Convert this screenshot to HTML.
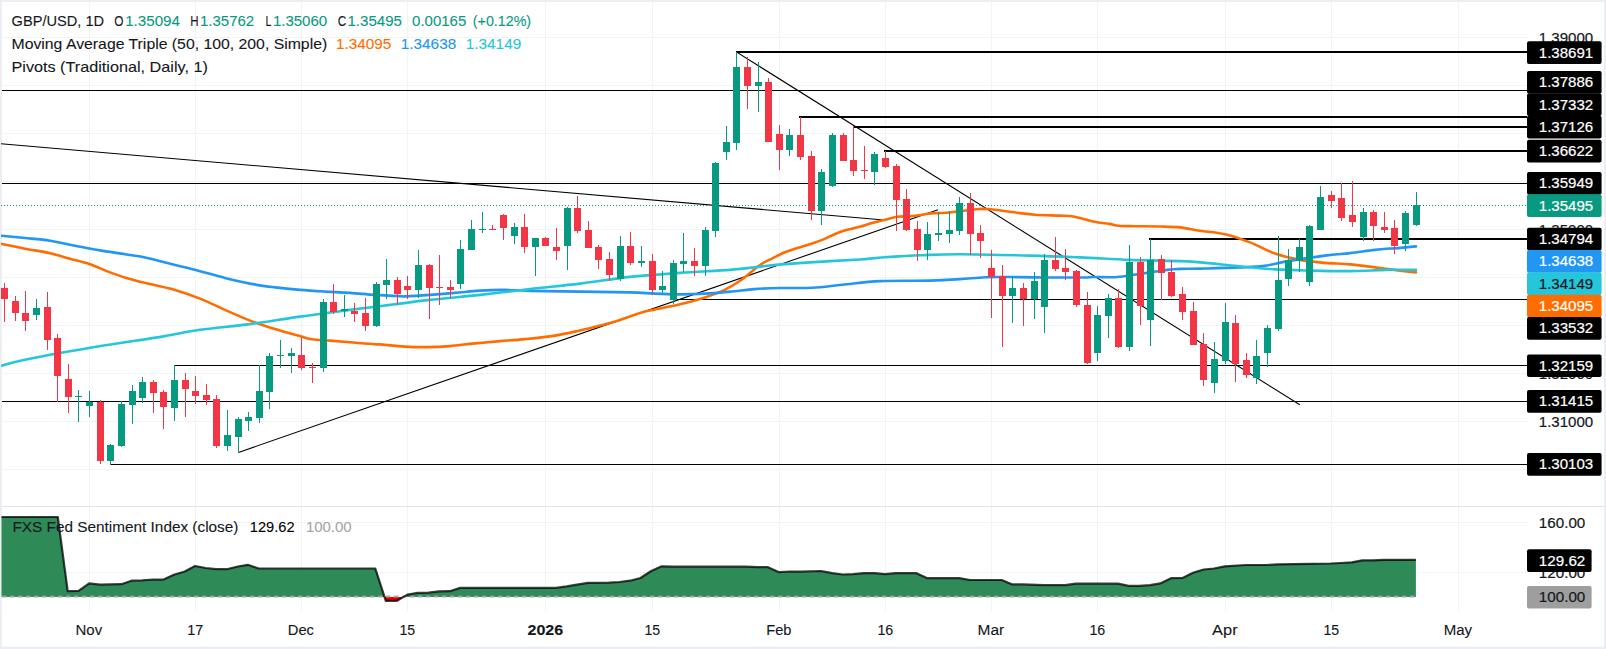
<!DOCTYPE html><html><head><meta charset="utf-8"><style>html,body{margin:0;padding:0;background:#fff}svg{display:block}svg text{font-family:"Liberation Sans",sans-serif}</style></head><body><svg width="1606" height="649" viewBox="0 0 1606 649" font-family="'Liberation Sans', sans-serif">
<rect x="0" y="0" width="1606" height="649" fill="#EDEEF3"/>
<rect x="2" y="2" width="1602" height="644.7" fill="#fff"/>
<g shape-rendering="crispEdges" stroke="#F2F3F3" stroke-width="1">
<line x1="89.5" y1="2" x2="89.5" y2="611"/>
<line x1="195.5" y1="2" x2="195.5" y2="611"/>
<line x1="301.5" y1="2" x2="301.5" y2="611"/>
<line x1="407.5" y1="2" x2="407.5" y2="611"/>
<line x1="545.5" y1="2" x2="545.5" y2="611"/>
<line x1="652.5" y1="2" x2="652.5" y2="611"/>
<line x1="779.5" y1="2" x2="779.5" y2="611"/>
<line x1="885.5" y1="2" x2="885.5" y2="611"/>
<line x1="991.5" y1="2" x2="991.5" y2="611"/>
<line x1="1097.5" y1="2" x2="1097.5" y2="611"/>
<line x1="1225.5" y1="2" x2="1225.5" y2="611"/>
<line x1="1331.5" y1="2" x2="1331.5" y2="611"/>
<line x1="1458.5" y1="2" x2="1458.5" y2="611"/>
<line x1="2" y1="37.5" x2="1527" y2="37.5"/>
<line x1="2" y1="85.5" x2="1527" y2="85.5"/>
<line x1="2" y1="133.5" x2="1527" y2="133.5"/>
<line x1="2" y1="181.5" x2="1527" y2="181.5"/>
<line x1="2" y1="229.5" x2="1527" y2="229.5"/>
<line x1="2" y1="277.5" x2="1527" y2="277.5"/>
<line x1="2" y1="325.5" x2="1527" y2="325.5"/>
<line x1="2" y1="373.5" x2="1527" y2="373.5"/>
<line x1="2" y1="421.5" x2="1527" y2="421.5"/>
<line x1="2" y1="469.5" x2="1527" y2="469.5"/>
<line x1="2" y1="522.5" x2="1527" y2="522.5"/>
<line x1="2" y1="572.5" x2="1527" y2="572.5"/>
</g>
<rect x="2" y="506" width="1602" height="1" fill="#E0E3EB" shape-rendering="crispEdges"/>
<clipPath id="cp"><rect x="1" y="2" width="1526" height="504"/></clipPath>
<clipPath id="cp2"><rect x="1" y="507" width="1525" height="104"/></clipPath>
<g clip-path="url(#cp)">
<rect x="736" y="51" width="791" height="2" fill="#000" shape-rendering="crispEdges"/>
<rect x="2" y="90" width="1525" height="1" fill="#000" shape-rendering="crispEdges"/>
<rect x="799" y="116" width="728" height="2" fill="#000" shape-rendering="crispEdges"/>
<rect x="853" y="126" width="674" height="2" fill="#000" shape-rendering="crispEdges"/>
<rect x="884" y="150" width="643" height="2" fill="#000" shape-rendering="crispEdges"/>
<rect x="2" y="183" width="1525" height="1" fill="#000" shape-rendering="crispEdges"/>
<rect x="1149" y="238" width="378" height="2" fill="#000" shape-rendering="crispEdges"/>
<rect x="673" y="299" width="854" height="1" fill="#000" shape-rendering="crispEdges"/>
<rect x="174" y="365" width="1353" height="1" fill="#000" shape-rendering="crispEdges"/>
<rect x="2" y="401" width="1525" height="1" fill="#000" shape-rendering="crispEdges"/>
<rect x="110" y="464" width="1417" height="1" fill="#000" shape-rendering="crispEdges"/>
<g stroke="#000" stroke-width="1.1" fill="none">
<line x1="0" y1="143.6" x2="884" y2="220"/>
<line x1="238.5" y1="452.4" x2="938" y2="209.7"/>
<line x1="736.3" y1="51.9" x2="1299.8" y2="404.8"/>
</g>
<path d="M2.0,243.9 C5.8,244.7 17.0,247.1 25.0,248.7 C33.0,250.2 42.5,251.5 50.0,253.2 C57.5,254.9 63.3,256.9 70.0,258.7 C76.7,260.5 83.3,261.9 90.0,264.2 C96.7,266.5 103.3,269.9 110.0,272.4 C116.7,274.9 123.3,277.2 130.0,279.1 C136.7,281.1 142.5,282.3 150.0,284.1 C157.5,285.9 166.7,287.5 175.0,289.9 C183.3,292.3 191.7,295.3 200.0,298.6 C208.3,301.9 216.7,306.2 225.0,309.9 C233.3,313.6 241.7,317.4 250.0,320.6 C258.3,323.8 266.7,326.5 275.0,329.1 C283.3,331.7 293.8,334.4 300.0,336.1 C306.2,337.8 307.0,338.6 312.0,339.3 C317.0,340.1 323.7,340.1 330.0,340.6 C336.3,341.1 342.6,341.7 350.0,342.3 C357.4,342.9 369.5,344.0 374.5,344.3 C379.5,344.6 374.9,344.0 380.0,344.4 C385.1,344.8 397.1,346.2 405.0,346.6 C412.9,347.1 419.9,347.2 427.4,347.1 C434.9,347.0 442.5,346.7 450.0,346.1 C457.5,345.5 464.1,344.4 472.4,343.6 C480.7,342.8 491.2,341.9 500.0,341.1 C508.8,340.4 515.8,340.0 525.0,339.1 C534.2,338.2 545.8,337.1 555.0,335.6 C564.2,334.2 571.7,332.3 580.0,330.4 C588.3,328.5 598.3,325.9 605.0,324.2 C611.7,322.4 614.2,321.8 620.0,319.9 C625.8,318.0 634.2,314.6 640.0,312.9 C645.8,311.1 648.3,310.8 655.0,309.4 C661.7,307.9 671.7,306.2 680.0,304.2 C688.3,302.2 697.6,299.8 705.0,297.4 C712.4,295.0 718.4,292.9 724.6,289.9 C730.8,286.9 736.1,283.6 742.0,279.5 C747.9,275.4 754.9,268.5 760.0,265.0 C765.1,261.5 768.4,260.4 772.5,258.3 C776.6,256.2 780.8,254.0 784.9,252.3 C789.0,250.6 793.2,249.2 797.4,247.9 C801.5,246.6 805.6,245.5 809.8,244.2 C813.9,242.9 818.1,241.6 822.3,239.9 C826.4,238.2 831.0,235.8 834.7,234.2 C838.4,232.6 840.6,231.7 844.7,230.5 C848.9,229.3 855.0,228.1 859.6,226.8 C864.2,225.6 868.0,224.2 872.1,223.0 C876.2,221.8 880.4,220.9 884.5,219.9 C888.6,218.9 892.9,217.4 897.0,216.8 C901.1,216.2 905.2,216.5 909.4,216.2 C913.5,215.8 917.8,215.2 921.9,214.7 C926.0,214.2 930.1,213.4 934.3,213.1 C938.4,212.8 943.3,213.1 946.8,212.8 C950.3,212.6 953.3,211.9 955.5,211.6 C957.7,211.3 956.1,211.6 960.0,211.2 C963.9,210.8 973.5,209.3 978.7,209.0 C983.9,208.7 985.8,208.8 991.0,209.3 C996.2,209.8 1002.5,210.9 1009.8,211.8 C1017.1,212.7 1026.4,214.1 1034.7,214.7 C1043.0,215.3 1053.4,215.3 1059.6,215.6 C1065.8,215.8 1067.8,215.6 1072.0,216.2 C1076.2,216.8 1080.3,218.3 1084.5,219.3 C1088.7,220.3 1092.8,221.4 1097.0,222.2 C1101.2,223.0 1105.8,223.3 1109.4,223.9 C1113.0,224.5 1114.7,225.4 1118.8,225.8 C1122.9,226.2 1127.4,226.1 1134.3,226.2 C1141.2,226.3 1152.4,226.3 1160.0,226.5 C1167.6,226.7 1173.3,226.7 1180.0,227.4 C1186.7,228.1 1192.5,229.6 1200.0,230.7 C1207.5,231.8 1216.7,232.2 1225.0,234.2 C1233.3,236.1 1241.7,239.2 1250.0,242.4 C1258.3,245.6 1266.7,250.7 1275.0,253.6 C1283.3,256.5 1291.7,258.3 1300.0,259.9 C1308.3,261.4 1316.7,262.1 1325.0,262.9 C1333.3,263.6 1341.7,263.6 1350.0,264.4 C1358.3,265.1 1366.7,266.4 1375.0,267.4 C1383.3,268.4 1393.2,269.8 1400.0,270.6 C1406.8,271.4 1413.3,272.1 1416.0,272.4" fill="none" stroke="#FF6D00" stroke-width="2.6" stroke-linejoin="round" stroke-linecap="round"/>
<path d="M2.0,235.7 C5.8,236.1 17.0,237.2 25.0,238.0 C33.0,238.8 41.7,239.4 50.0,240.7 C58.3,242.0 66.7,244.1 75.0,245.7 C83.3,247.3 91.7,249.0 100.0,250.4 C108.3,251.8 117.5,253.0 125.0,254.2 C132.5,255.4 136.7,255.6 145.0,257.4 C153.3,259.2 165.8,262.6 175.0,264.9 C184.2,267.2 191.7,269.0 200.0,271.2 C208.3,273.4 216.7,275.8 225.0,277.9 C233.3,280.0 241.7,282.0 250.0,283.6 C258.3,285.2 266.7,286.3 275.0,287.4 C283.3,288.4 291.7,289.2 300.0,289.9 C308.3,290.6 316.7,291.1 325.0,291.6 C333.3,292.1 341.8,292.3 350.0,292.9 C358.2,293.4 366.2,294.4 374.5,294.9 C382.8,295.4 394.9,295.9 400.0,296.1 C405.1,296.4 400.0,296.6 405.0,296.4 C410.0,296.2 421.7,295.5 430.0,294.9 C438.3,294.3 446.7,293.6 455.0,292.9 C463.3,292.2 471.7,291.1 480.0,290.6 C488.3,290.1 496.7,289.8 505.0,289.9 C513.3,289.9 517.5,290.6 530.0,290.9 C542.5,291.2 563.3,291.4 580.0,291.6 C596.7,291.9 617.5,292.1 630.0,292.4 C642.5,292.7 646.7,293.3 655.0,293.6 C663.3,293.9 671.7,294.4 680.0,294.4 C688.3,294.4 696.7,294.1 705.0,293.6 C713.3,293.1 721.8,292.4 730.0,291.6 C738.2,290.9 746.2,289.7 754.5,289.1 C762.8,288.5 770.3,288.2 780.0,288.0 C789.7,287.8 802.1,288.3 812.5,287.8 C822.9,287.3 831.1,285.9 842.4,284.8 C853.6,283.7 865.4,281.8 880.0,281.1 C894.6,280.4 916.7,280.9 930.0,280.6 C943.3,280.3 950.8,279.7 960.0,279.1 C969.2,278.5 976.7,277.6 985.0,277.2 C993.3,276.8 999.7,276.9 1010.0,277.0 C1020.3,277.1 1034.6,277.4 1047.0,277.5 C1059.4,277.6 1077.0,277.6 1084.5,277.5 C1092.0,277.4 1087.8,277.1 1092.0,277.0 C1096.2,276.9 1105.2,277.2 1109.4,277.2 C1113.6,277.2 1113.7,277.3 1117.0,277.0 C1120.3,276.7 1125.2,276.1 1129.4,275.5 C1133.6,274.9 1137.8,274.2 1141.9,273.6 C1146.1,273.0 1150.2,272.4 1154.3,271.8 C1158.4,271.2 1162.5,270.4 1166.8,269.9 C1171.1,269.4 1174.5,269.1 1180.0,268.9 C1185.5,268.7 1192.5,268.8 1200.0,268.6 C1207.5,268.4 1214.6,268.3 1225.0,267.9 C1235.4,267.5 1252.0,267.2 1262.4,266.1 C1272.8,265.0 1277.0,262.9 1287.4,261.1 C1297.8,259.4 1314.6,256.9 1325.0,255.6 C1335.4,254.3 1341.7,254.0 1350.0,253.1 C1358.3,252.2 1366.7,250.8 1375.0,249.9 C1383.3,249.0 1393.2,248.5 1400.0,247.9 C1406.8,247.3 1413.3,246.7 1416.0,246.4" fill="none" stroke="#2196F3" stroke-width="2.6" stroke-linejoin="round" stroke-linecap="round"/>
<path d="M2.0,365.6 C4.2,365.0 7.0,363.8 15.0,362.0 C23.0,360.2 37.5,357.2 50.0,354.8 C62.5,352.4 77.5,349.9 90.0,347.8 C102.5,345.7 112.5,344.2 125.0,342.3 C137.5,340.4 152.5,338.2 165.0,336.1 C177.5,334.0 185.8,331.8 200.0,329.8 C214.2,327.8 233.3,326.3 250.0,324.1 C266.7,321.9 283.3,319.0 300.0,316.6 C316.7,314.2 333.3,312.1 350.0,309.9 C366.7,307.7 386.7,305.3 400.0,303.6 C413.3,301.9 416.7,301.3 430.0,299.9 C443.3,298.4 463.3,296.7 480.0,294.9 C496.7,293.1 513.3,291.0 530.0,289.1 C546.7,287.2 563.3,285.6 580.0,283.6 C596.7,281.6 613.3,278.7 630.0,276.9 C646.7,275.1 663.3,274.1 680.0,272.9 C696.7,271.7 716.7,270.9 730.0,269.9 C743.3,268.8 750.9,267.6 760.0,266.6 C769.1,265.6 774.5,264.9 784.9,264.1 C795.3,263.3 809.8,262.4 822.3,261.6 C834.8,260.8 849.2,260.2 859.6,259.5 C870.0,258.8 874.1,258.0 884.5,257.3 C894.9,256.6 909.3,255.7 921.9,255.2 C934.5,254.7 942.0,254.1 960.0,254.2 C978.0,254.3 1010.0,255.1 1030.0,255.6 C1050.0,256.1 1063.4,256.7 1080.0,257.4 C1096.6,258.1 1112.9,259.3 1129.6,259.9 C1146.3,260.5 1168.3,260.7 1180.0,261.1 C1191.7,261.5 1190.4,261.6 1200.0,262.4 C1209.6,263.2 1225.0,264.9 1237.5,266.1 C1250.0,267.3 1262.6,268.6 1275.0,269.4 C1287.4,270.1 1299.5,270.3 1312.0,270.6 C1324.5,270.9 1337.5,271.2 1350.0,271.1 C1362.5,271.0 1376.0,270.1 1387.0,269.9 C1398.0,269.7 1411.2,269.9 1416.0,269.9" fill="none" stroke="#26C6DA" stroke-width="2.6" stroke-linejoin="round" stroke-linecap="round"/>
<g shape-rendering="crispEdges">
<rect x="4" y="283" width="1" height="39" fill="#F23645"/>
<rect x="1" y="288" width="7" height="11" fill="#F23645"/>
<rect x="15" y="296" width="1" height="25" fill="#F23645"/>
<rect x="12" y="301" width="7" height="12" fill="#F23645"/>
<rect x="25" y="291" width="1" height="40" fill="#F23645"/>
<rect x="22" y="313" width="7" height="8" fill="#F23645"/>
<rect x="36" y="299" width="1" height="21" fill="#089981"/>
<rect x="33" y="308" width="7" height="7" fill="#089981"/>
<rect x="47" y="292" width="1" height="58" fill="#F23645"/>
<rect x="44" y="307" width="7" height="33" fill="#F23645"/>
<rect x="57" y="334" width="1" height="68" fill="#F23645"/>
<rect x="54" y="338" width="7" height="38" fill="#F23645"/>
<rect x="68" y="364" width="1" height="49" fill="#F23645"/>
<rect x="65" y="379" width="7" height="18" fill="#F23645"/>
<rect x="78" y="390" width="1" height="32" fill="#089981"/>
<rect x="75" y="396" width="7" height="1" fill="#089981"/>
<rect x="89" y="391" width="1" height="26" fill="#089981"/>
<rect x="86" y="402" width="7" height="4" fill="#089981"/>
<rect x="100" y="400" width="1" height="64" fill="#F23645"/>
<rect x="97" y="402" width="7" height="59" fill="#F23645"/>
<rect x="110" y="444" width="1" height="21" fill="#089981"/>
<rect x="107" y="445" width="7" height="16" fill="#089981"/>
<rect x="121" y="401" width="1" height="46" fill="#089981"/>
<rect x="118" y="404" width="7" height="42" fill="#089981"/>
<rect x="132" y="385" width="1" height="39" fill="#089981"/>
<rect x="129" y="391" width="7" height="14" fill="#089981"/>
<rect x="142" y="377" width="1" height="26" fill="#089981"/>
<rect x="139" y="382" width="7" height="16" fill="#089981"/>
<rect x="153" y="380" width="1" height="33" fill="#F23645"/>
<rect x="150" y="382" width="7" height="11" fill="#F23645"/>
<rect x="163" y="390" width="1" height="39" fill="#F23645"/>
<rect x="160" y="392" width="7" height="15" fill="#F23645"/>
<rect x="174" y="365" width="1" height="56" fill="#089981"/>
<rect x="171" y="380" width="7" height="28" fill="#089981"/>
<rect x="185" y="373" width="1" height="44" fill="#F23645"/>
<rect x="182" y="380" width="7" height="9" fill="#F23645"/>
<rect x="195" y="376" width="1" height="28" fill="#F23645"/>
<rect x="192" y="391" width="7" height="5" fill="#F23645"/>
<rect x="206" y="384" width="1" height="21" fill="#F23645"/>
<rect x="203" y="395" width="7" height="5" fill="#F23645"/>
<rect x="216" y="395" width="1" height="53" fill="#F23645"/>
<rect x="213" y="399" width="7" height="47" fill="#F23645"/>
<rect x="227" y="410" width="1" height="41" fill="#089981"/>
<rect x="224" y="435" width="7" height="11" fill="#089981"/>
<rect x="238" y="417" width="1" height="35" fill="#089981"/>
<rect x="235" y="419" width="7" height="18" fill="#089981"/>
<rect x="248" y="412" width="1" height="19" fill="#089981"/>
<rect x="245" y="417" width="7" height="4" fill="#089981"/>
<rect x="259" y="365" width="1" height="58" fill="#089981"/>
<rect x="256" y="391" width="7" height="27" fill="#089981"/>
<rect x="269" y="353" width="1" height="56" fill="#089981"/>
<rect x="266" y="356" width="7" height="36" fill="#089981"/>
<rect x="280" y="340" width="1" height="28" fill="#089981"/>
<rect x="277" y="355" width="7" height="1" fill="#089981"/>
<rect x="291" y="348" width="1" height="25" fill="#089981"/>
<rect x="288" y="353" width="7" height="3" fill="#089981"/>
<rect x="301" y="337" width="1" height="33" fill="#F23645"/>
<rect x="298" y="355" width="7" height="13" fill="#F23645"/>
<rect x="312" y="363" width="1" height="20" fill="#F23645"/>
<rect x="309" y="367" width="7" height="1" fill="#F23645"/>
<rect x="323" y="299" width="1" height="73" fill="#089981"/>
<rect x="320" y="302" width="7" height="66" fill="#089981"/>
<rect x="333" y="284" width="1" height="30" fill="#F23645"/>
<rect x="330" y="302" width="7" height="10" fill="#F23645"/>
<rect x="344" y="295" width="1" height="22" fill="#089981"/>
<rect x="341" y="309" width="7" height="2" fill="#089981"/>
<rect x="354" y="303" width="1" height="19" fill="#F23645"/>
<rect x="351" y="311" width="7" height="3" fill="#F23645"/>
<rect x="365" y="298" width="1" height="33" fill="#F23645"/>
<rect x="362" y="313" width="7" height="13" fill="#F23645"/>
<rect x="376" y="282" width="1" height="45" fill="#089981"/>
<rect x="373" y="284" width="7" height="42" fill="#089981"/>
<rect x="386" y="259" width="1" height="40" fill="#089981"/>
<rect x="383" y="280" width="7" height="5" fill="#089981"/>
<rect x="397" y="277" width="1" height="28" fill="#F23645"/>
<rect x="394" y="280" width="7" height="14" fill="#F23645"/>
<rect x="407" y="276" width="1" height="23" fill="#F23645"/>
<rect x="404" y="286" width="7" height="4" fill="#F23645"/>
<rect x="418" y="250" width="1" height="48" fill="#089981"/>
<rect x="415" y="265" width="7" height="25" fill="#089981"/>
<rect x="429" y="264" width="1" height="55" fill="#F23645"/>
<rect x="426" y="265" width="7" height="23" fill="#F23645"/>
<rect x="439" y="255" width="1" height="50" fill="#F23645"/>
<rect x="436" y="287" width="7" height="1" fill="#F23645"/>
<rect x="450" y="280" width="1" height="18" fill="#F23645"/>
<rect x="447" y="287" width="7" height="3" fill="#F23645"/>
<rect x="460" y="240" width="1" height="49" fill="#089981"/>
<rect x="457" y="249" width="7" height="35" fill="#089981"/>
<rect x="471" y="220" width="1" height="30" fill="#089981"/>
<rect x="468" y="229" width="7" height="21" fill="#089981"/>
<rect x="482" y="212" width="1" height="21" fill="#089981"/>
<rect x="479" y="229" width="7" height="1" fill="#089981"/>
<rect x="492" y="225" width="1" height="5" fill="#F23645"/>
<rect x="489" y="229" width="7" height="1" fill="#F23645"/>
<rect x="503" y="214" width="1" height="26" fill="#F23645"/>
<rect x="500" y="215" width="7" height="13" fill="#F23645"/>
<rect x="514" y="223" width="1" height="21" fill="#089981"/>
<rect x="511" y="227" width="7" height="9" fill="#089981"/>
<rect x="524" y="214" width="1" height="39" fill="#F23645"/>
<rect x="521" y="227" width="7" height="20" fill="#F23645"/>
<rect x="535" y="238" width="1" height="38" fill="#089981"/>
<rect x="532" y="238" width="7" height="9" fill="#089981"/>
<rect x="545" y="237" width="1" height="9" fill="#F23645"/>
<rect x="542" y="238" width="7" height="8" fill="#F23645"/>
<rect x="556" y="228" width="1" height="32" fill="#F23645"/>
<rect x="553" y="247" width="7" height="4" fill="#F23645"/>
<rect x="567" y="207" width="1" height="63" fill="#089981"/>
<rect x="564" y="208" width="7" height="38" fill="#089981"/>
<rect x="577" y="196" width="1" height="37" fill="#F23645"/>
<rect x="574" y="208" width="7" height="23" fill="#F23645"/>
<rect x="588" y="221" width="1" height="27" fill="#F23645"/>
<rect x="585" y="230" width="7" height="18" fill="#F23645"/>
<rect x="598" y="245" width="1" height="24" fill="#F23645"/>
<rect x="595" y="247" width="7" height="13" fill="#F23645"/>
<rect x="609" y="252" width="1" height="29" fill="#F23645"/>
<rect x="606" y="259" width="7" height="16" fill="#F23645"/>
<rect x="620" y="236" width="1" height="45" fill="#089981"/>
<rect x="617" y="246" width="7" height="33" fill="#089981"/>
<rect x="630" y="232" width="1" height="33" fill="#F23645"/>
<rect x="627" y="246" width="7" height="17" fill="#F23645"/>
<rect x="641" y="246" width="1" height="21" fill="#089981"/>
<rect x="638" y="261" width="7" height="2" fill="#089981"/>
<rect x="652" y="254" width="1" height="41" fill="#F23645"/>
<rect x="649" y="261" width="7" height="29" fill="#F23645"/>
<rect x="662" y="271" width="1" height="22" fill="#089981"/>
<rect x="659" y="286" width="7" height="4" fill="#089981"/>
<rect x="673" y="260" width="1" height="44" fill="#089981"/>
<rect x="670" y="263" width="7" height="37" fill="#089981"/>
<rect x="683" y="233" width="1" height="39" fill="#089981"/>
<rect x="680" y="261" width="7" height="3" fill="#089981"/>
<rect x="694" y="248" width="1" height="28" fill="#F23645"/>
<rect x="691" y="261" width="7" height="5" fill="#F23645"/>
<rect x="705" y="227" width="1" height="49" fill="#089981"/>
<rect x="702" y="230" width="7" height="36" fill="#089981"/>
<rect x="715" y="162" width="1" height="75" fill="#089981"/>
<rect x="712" y="163" width="7" height="68" fill="#089981"/>
<rect x="726" y="126" width="1" height="34" fill="#089981"/>
<rect x="723" y="142" width="7" height="10" fill="#089981"/>
<rect x="736" y="52" width="1" height="98" fill="#089981"/>
<rect x="733" y="67" width="7" height="76" fill="#089981"/>
<rect x="747" y="57" width="1" height="52" fill="#F23645"/>
<rect x="744" y="67" width="7" height="19" fill="#F23645"/>
<rect x="758" y="62" width="1" height="50" fill="#089981"/>
<rect x="755" y="82" width="7" height="4" fill="#089981"/>
<rect x="768" y="78" width="1" height="64" fill="#F23645"/>
<rect x="765" y="82" width="7" height="60" fill="#F23645"/>
<rect x="779" y="125" width="1" height="45" fill="#F23645"/>
<rect x="776" y="134" width="7" height="16" fill="#F23645"/>
<rect x="789" y="129" width="1" height="27" fill="#089981"/>
<rect x="786" y="135" width="7" height="15" fill="#089981"/>
<rect x="800" y="117" width="1" height="43" fill="#F23645"/>
<rect x="797" y="135" width="7" height="22" fill="#F23645"/>
<rect x="811" y="151" width="1" height="69" fill="#F23645"/>
<rect x="808" y="156" width="7" height="55" fill="#F23645"/>
<rect x="821" y="169" width="1" height="56" fill="#089981"/>
<rect x="818" y="172" width="7" height="39" fill="#089981"/>
<rect x="832" y="133" width="1" height="54" fill="#089981"/>
<rect x="829" y="135" width="7" height="51" fill="#089981"/>
<rect x="843" y="133" width="1" height="28" fill="#F23645"/>
<rect x="840" y="135" width="7" height="26" fill="#F23645"/>
<rect x="853" y="126" width="1" height="50" fill="#F23645"/>
<rect x="850" y="160" width="7" height="11" fill="#F23645"/>
<rect x="864" y="146" width="1" height="33" fill="#F23645"/>
<rect x="861" y="170" width="7" height="1" fill="#F23645"/>
<rect x="874" y="152" width="1" height="33" fill="#089981"/>
<rect x="871" y="154" width="7" height="18" fill="#089981"/>
<rect x="885" y="151" width="1" height="17" fill="#F23645"/>
<rect x="882" y="158" width="7" height="9" fill="#F23645"/>
<rect x="896" y="164" width="1" height="67" fill="#F23645"/>
<rect x="893" y="166" width="7" height="34" fill="#F23645"/>
<rect x="906" y="189" width="1" height="42" fill="#F23645"/>
<rect x="903" y="199" width="7" height="31" fill="#F23645"/>
<rect x="917" y="221" width="1" height="40" fill="#F23645"/>
<rect x="914" y="229" width="7" height="21" fill="#F23645"/>
<rect x="927" y="222" width="1" height="38" fill="#089981"/>
<rect x="924" y="234" width="7" height="16" fill="#089981"/>
<rect x="938" y="212" width="1" height="29" fill="#089981"/>
<rect x="935" y="233" width="7" height="2" fill="#089981"/>
<rect x="949" y="211" width="1" height="32" fill="#089981"/>
<rect x="946" y="230" width="7" height="4" fill="#089981"/>
<rect x="959" y="197" width="1" height="38" fill="#089981"/>
<rect x="956" y="203" width="7" height="28" fill="#089981"/>
<rect x="970" y="193" width="1" height="62" fill="#F23645"/>
<rect x="967" y="203" width="7" height="31" fill="#F23645"/>
<rect x="980" y="225" width="1" height="33" fill="#F23645"/>
<rect x="977" y="233" width="7" height="8" fill="#F23645"/>
<rect x="991" y="250" width="1" height="68" fill="#F23645"/>
<rect x="988" y="268" width="7" height="9" fill="#F23645"/>
<rect x="1002" y="265" width="1" height="82" fill="#F23645"/>
<rect x="999" y="276" width="7" height="20" fill="#F23645"/>
<rect x="1012" y="276" width="1" height="47" fill="#089981"/>
<rect x="1009" y="288" width="7" height="8" fill="#089981"/>
<rect x="1023" y="283" width="1" height="43" fill="#F23645"/>
<rect x="1020" y="288" width="7" height="11" fill="#F23645"/>
<rect x="1034" y="272" width="1" height="47" fill="#089981"/>
<rect x="1031" y="281" width="7" height="18" fill="#089981"/>
<rect x="1044" y="254" width="1" height="79" fill="#089981"/>
<rect x="1041" y="260" width="7" height="47" fill="#089981"/>
<rect x="1055" y="237" width="1" height="34" fill="#F23645"/>
<rect x="1052" y="260" width="7" height="9" fill="#F23645"/>
<rect x="1065" y="249" width="1" height="31" fill="#F23645"/>
<rect x="1062" y="268" width="7" height="4" fill="#F23645"/>
<rect x="1076" y="270" width="1" height="37" fill="#F23645"/>
<rect x="1073" y="271" width="7" height="34" fill="#F23645"/>
<rect x="1087" y="292" width="1" height="72" fill="#F23645"/>
<rect x="1084" y="305" width="7" height="58" fill="#F23645"/>
<rect x="1097" y="306" width="1" height="55" fill="#089981"/>
<rect x="1094" y="315" width="7" height="38" fill="#089981"/>
<rect x="1108" y="294" width="1" height="44" fill="#089981"/>
<rect x="1105" y="298" width="7" height="18" fill="#089981"/>
<rect x="1118" y="289" width="1" height="59" fill="#F23645"/>
<rect x="1115" y="298" width="7" height="49" fill="#F23645"/>
<rect x="1129" y="245" width="1" height="106" fill="#089981"/>
<rect x="1126" y="262" width="7" height="85" fill="#089981"/>
<rect x="1140" y="257" width="1" height="68" fill="#F23645"/>
<rect x="1137" y="262" width="7" height="44" fill="#F23645"/>
<rect x="1150" y="239" width="1" height="107" fill="#089981"/>
<rect x="1147" y="260" width="7" height="60" fill="#089981"/>
<rect x="1161" y="255" width="1" height="45" fill="#F23645"/>
<rect x="1158" y="259" width="7" height="14" fill="#F23645"/>
<rect x="1171" y="260" width="1" height="37" fill="#F23645"/>
<rect x="1168" y="272" width="7" height="24" fill="#F23645"/>
<rect x="1182" y="287" width="1" height="33" fill="#F23645"/>
<rect x="1179" y="294" width="7" height="18" fill="#F23645"/>
<rect x="1193" y="302" width="1" height="43" fill="#F23645"/>
<rect x="1190" y="311" width="7" height="34" fill="#F23645"/>
<rect x="1203" y="333" width="1" height="53" fill="#F23645"/>
<rect x="1200" y="344" width="7" height="36" fill="#F23645"/>
<rect x="1214" y="342" width="1" height="51" fill="#089981"/>
<rect x="1211" y="359" width="7" height="24" fill="#089981"/>
<rect x="1225" y="303" width="1" height="61" fill="#089981"/>
<rect x="1222" y="322" width="7" height="39" fill="#089981"/>
<rect x="1235" y="315" width="1" height="67" fill="#F23645"/>
<rect x="1232" y="323" width="7" height="41" fill="#F23645"/>
<rect x="1246" y="353" width="1" height="25" fill="#F23645"/>
<rect x="1243" y="360" width="7" height="15" fill="#F23645"/>
<rect x="1256" y="340" width="1" height="44" fill="#089981"/>
<rect x="1253" y="356" width="7" height="22" fill="#089981"/>
<rect x="1267" y="325" width="1" height="42" fill="#089981"/>
<rect x="1264" y="328" width="7" height="25" fill="#089981"/>
<rect x="1278" y="236" width="1" height="95" fill="#089981"/>
<rect x="1275" y="280" width="7" height="49" fill="#089981"/>
<rect x="1288" y="249" width="1" height="37" fill="#089981"/>
<rect x="1285" y="260" width="7" height="19" fill="#089981"/>
<rect x="1299" y="239" width="1" height="33" fill="#089981"/>
<rect x="1296" y="247" width="7" height="14" fill="#089981"/>
<rect x="1309" y="225" width="1" height="61" fill="#089981"/>
<rect x="1306" y="226" width="7" height="56" fill="#089981"/>
<rect x="1320" y="186" width="1" height="44" fill="#089981"/>
<rect x="1317" y="197" width="7" height="33" fill="#089981"/>
<rect x="1331" y="191" width="1" height="17" fill="#F23645"/>
<rect x="1328" y="195" width="7" height="6" fill="#F23645"/>
<rect x="1341" y="183" width="1" height="38" fill="#F23645"/>
<rect x="1338" y="198" width="7" height="20" fill="#F23645"/>
<rect x="1352" y="181" width="1" height="46" fill="#F23645"/>
<rect x="1349" y="215" width="7" height="7" fill="#F23645"/>
<rect x="1363" y="208" width="1" height="33" fill="#089981"/>
<rect x="1360" y="212" width="7" height="25" fill="#089981"/>
<rect x="1373" y="210" width="1" height="31" fill="#F23645"/>
<rect x="1370" y="212" width="7" height="14" fill="#F23645"/>
<rect x="1384" y="212" width="1" height="21" fill="#F23645"/>
<rect x="1381" y="227" width="7" height="3" fill="#F23645"/>
<rect x="1394" y="220" width="1" height="34" fill="#F23645"/>
<rect x="1391" y="228" width="7" height="18" fill="#F23645"/>
<rect x="1405" y="211" width="1" height="40" fill="#089981"/>
<rect x="1402" y="213" width="7" height="31" fill="#089981"/>
<rect x="1416" y="192" width="1" height="34" fill="#089981"/>
<rect x="1413" y="205" width="7" height="20" fill="#089981"/>
</g>
<line x1="1" y1="205.5" x2="1527" y2="205.5" stroke="#089981" stroke-width="1" stroke-dasharray="1 2" shape-rendering="crispEdges"/>
</g>
<g clip-path="url(#cp2)">
<clipPath id="ab"><rect x="0" y="500" width="1606" height="96.89999999999998"/></clipPath>
<clipPath id="be"><rect x="0" y="596.9" width="1606" height="30"/></clipPath>
<path d="M1.5,517.0 L57.8,517.0 L67.7,591.2 L78.5,590.9 L89.2,583.4 L99.9,584.7 L121.3,584.2 L131.5,580.7 L142.2,580.4 L152.9,579.5 L163.1,579.7 L173.8,574.7 L184.8,571.5 L195.0,566.0 L205.7,568.0 L216.0,569.2 L226.7,569.2 L237.9,566.5 L247.8,564.8 L258.8,568.5 L375.3,568.5 L385.8,600.9 L397.0,600.9 L407.4,594.6 L417.9,592.9 L428.6,592.7 L439.0,591.4 L449.7,591.2 L460.2,587.9 L555.8,587.9 L566.6,586.4 L577.0,584.7 L587.7,582.9 L608.9,582.7 L619.4,582.0 L630.0,580.7 L640.5,578.0 L651.2,571.0 L661.7,566.3 L672.4,566.7 L746.0,566.7 L757.6,567.2 L768.0,567.2 L779.0,572.2 L790.0,571.5 L800.4,571.7 L821.0,571.0 L832.3,573.2 L842.8,574.5 L853.0,574.2 L864.0,573.2 L874.6,573.2 L885.0,574.2 L895.8,573.2 L916.5,573.2 L927.4,578.2 L959.3,578.2 L970.0,580.0 L1001.7,580.0 L1012.4,584.4 L1022.8,584.4 L1044.0,585.2 L1065.2,585.2 L1075.6,583.7 L1118.0,583.7 L1128.7,585.9 L1139.4,585.9 L1149.9,585.2 L1160.3,583.4 L1171.0,578.2 L1182.5,578.0 L1193.0,572.7 L1203.7,569.5 L1214.0,568.5 L1224.8,566.3 L1246.0,565.0 L1267.0,565.0 L1277.6,564.3 L1309.5,563.8 L1330.7,563.5 L1341.0,563.0 L1351.9,562.3 L1362.3,560.3 L1373.0,560.3 L1383.5,559.8 L1415.9,559.8 L1415.9,596.9 L1.5,596.9 Z" fill="#2E8B57" clip-path="url(#ab)"/>
<path d="M1.5,517.0 L57.8,517.0 L67.7,591.2 L78.5,590.9 L89.2,583.4 L99.9,584.7 L121.3,584.2 L131.5,580.7 L142.2,580.4 L152.9,579.5 L163.1,579.7 L173.8,574.7 L184.8,571.5 L195.0,566.0 L205.7,568.0 L216.0,569.2 L226.7,569.2 L237.9,566.5 L247.8,564.8 L258.8,568.5 L375.3,568.5 L385.8,600.9 L397.0,600.9 L407.4,594.6 L417.9,592.9 L428.6,592.7 L439.0,591.4 L449.7,591.2 L460.2,587.9 L555.8,587.9 L566.6,586.4 L577.0,584.7 L587.7,582.9 L608.9,582.7 L619.4,582.0 L630.0,580.7 L640.5,578.0 L651.2,571.0 L661.7,566.3 L672.4,566.7 L746.0,566.7 L757.6,567.2 L768.0,567.2 L779.0,572.2 L790.0,571.5 L800.4,571.7 L821.0,571.0 L832.3,573.2 L842.8,574.5 L853.0,574.2 L864.0,573.2 L874.6,573.2 L885.0,574.2 L895.8,573.2 L916.5,573.2 L927.4,578.2 L959.3,578.2 L970.0,580.0 L1001.7,580.0 L1012.4,584.4 L1022.8,584.4 L1044.0,585.2 L1065.2,585.2 L1075.6,583.7 L1118.0,583.7 L1128.7,585.9 L1139.4,585.9 L1149.9,585.2 L1160.3,583.4 L1171.0,578.2 L1182.5,578.0 L1193.0,572.7 L1203.7,569.5 L1214.0,568.5 L1224.8,566.3 L1246.0,565.0 L1267.0,565.0 L1277.6,564.3 L1309.5,563.8 L1330.7,563.5 L1341.0,563.0 L1351.9,562.3 L1362.3,560.3 L1373.0,560.3 L1383.5,559.8 L1415.9,559.8 L1415.9,596.9 L1.5,596.9 Z" fill="#E80000" clip-path="url(#be)"/>
<line x1="2" y1="596.5" x2="1416" y2="596.5" stroke="#A3A3A3" stroke-opacity="0.9" stroke-width="2" stroke-dasharray="4.5 3.5"/>
<path d="M1.5,517.0 L57.8,517.0 L67.7,591.2 L78.5,590.9 L89.2,583.4 L99.9,584.7 L121.3,584.2 L131.5,580.7 L142.2,580.4 L152.9,579.5 L163.1,579.7 L173.8,574.7 L184.8,571.5 L195.0,566.0 L205.7,568.0 L216.0,569.2 L226.7,569.2 L237.9,566.5 L247.8,564.8 L258.8,568.5 L375.3,568.5 L385.8,600.9 L397.0,600.9 L407.4,594.6 L417.9,592.9 L428.6,592.7 L439.0,591.4 L449.7,591.2 L460.2,587.9 L555.8,587.9 L566.6,586.4 L577.0,584.7 L587.7,582.9 L608.9,582.7 L619.4,582.0 L630.0,580.7 L640.5,578.0 L651.2,571.0 L661.7,566.3 L672.4,566.7 L746.0,566.7 L757.6,567.2 L768.0,567.2 L779.0,572.2 L790.0,571.5 L800.4,571.7 L821.0,571.0 L832.3,573.2 L842.8,574.5 L853.0,574.2 L864.0,573.2 L874.6,573.2 L885.0,574.2 L895.8,573.2 L916.5,573.2 L927.4,578.2 L959.3,578.2 L970.0,580.0 L1001.7,580.0 L1012.4,584.4 L1022.8,584.4 L1044.0,585.2 L1065.2,585.2 L1075.6,583.7 L1118.0,583.7 L1128.7,585.9 L1139.4,585.9 L1149.9,585.2 L1160.3,583.4 L1171.0,578.2 L1182.5,578.0 L1193.0,572.7 L1203.7,569.5 L1214.0,568.5 L1224.8,566.3 L1246.0,565.0 L1267.0,565.0 L1277.6,564.3 L1309.5,563.8 L1330.7,563.5 L1341.0,563.0 L1351.9,562.3 L1362.3,560.3 L1373.0,560.3 L1383.5,559.8 L1415.9,559.8" fill="none" stroke="#000" stroke-opacity="0.75" stroke-width="2.2" stroke-linejoin="round"/>
</g>
<text x="1538.8" y="42.5" font-size="15.5" fill="#131722" stroke="#131722" stroke-width="0.2" font-weight="normal" text-anchor="start" textLength="54.4" lengthAdjust="spacingAndGlyphs">1.39000</text>
<text x="1538.8" y="234.4999999999991" font-size="15.5" fill="#131722" stroke="#131722" stroke-width="0.2" font-weight="normal" text-anchor="start" textLength="54.4" lengthAdjust="spacingAndGlyphs">1.35000</text>
<text x="1538.8" y="378.4999999999992" font-size="15.5" fill="#131722" stroke="#131722" stroke-width="0.2" font-weight="normal" text-anchor="start" textLength="54.4" lengthAdjust="spacingAndGlyphs">1.32000</text>
<text x="1538.8" y="426.49999999999926" font-size="15.5" fill="#131722" stroke="#131722" stroke-width="0.2" font-weight="normal" text-anchor="start" textLength="54.4" lengthAdjust="spacingAndGlyphs">1.31000</text>
<text x="1538.8" y="527.6" font-size="15.5" fill="#131722" stroke="#131722" stroke-width="0.2" font-weight="normal" text-anchor="start" textLength="46.5" lengthAdjust="spacingAndGlyphs">160.00</text>
<text x="1538.8" y="577.7" font-size="15.5" fill="#131722" stroke="#131722" stroke-width="0.2" font-weight="normal" text-anchor="start" textLength="46.5" lengthAdjust="spacingAndGlyphs">120.00</text>
<rect x="1527" y="41.3" width="74.6" height="22.6" rx="2" fill="#000"/>
<text x="1538.8" y="57.6" font-size="15.5" fill="#fff" stroke="#fff" stroke-width="0.2" font-weight="normal" text-anchor="start" textLength="54.4" lengthAdjust="spacingAndGlyphs">1.38691</text>
<rect x="1527" y="71.1" width="74.6" height="22.6" rx="2" fill="#000"/>
<text x="1538.8" y="87.4" font-size="15.5" fill="#fff" stroke="#fff" stroke-width="0.2" font-weight="normal" text-anchor="start" textLength="54.4" lengthAdjust="spacingAndGlyphs">1.37886</text>
<rect x="1527" y="93.5" width="74.6" height="22.6" rx="2" fill="#000"/>
<text x="1538.8" y="109.75" font-size="15.5" fill="#fff" stroke="#fff" stroke-width="0.2" font-weight="normal" text-anchor="start" textLength="54.4" lengthAdjust="spacingAndGlyphs">1.37332</text>
<rect x="1527" y="115.8" width="74.6" height="22.6" rx="2" fill="#000"/>
<text x="1538.8" y="132.1" font-size="15.5" fill="#fff" stroke="#fff" stroke-width="0.2" font-weight="normal" text-anchor="start" textLength="54.4" lengthAdjust="spacingAndGlyphs">1.37126</text>
<rect x="1527" y="139.8" width="74.6" height="22.6" rx="2" fill="#000"/>
<text x="1538.8" y="156.1" font-size="15.5" fill="#fff" stroke="#fff" stroke-width="0.2" font-weight="normal" text-anchor="start" textLength="54.4" lengthAdjust="spacingAndGlyphs">1.36622</text>
<rect x="1527" y="172.1" width="74.6" height="22.6" rx="2" fill="#000"/>
<text x="1538.8" y="188.4" font-size="15.5" fill="#fff" stroke="#fff" stroke-width="0.2" font-weight="normal" text-anchor="start" textLength="54.4" lengthAdjust="spacingAndGlyphs">1.35949</text>
<rect x="1527" y="194.3" width="74.6" height="22.6" rx="2" fill="#089981"/>
<text x="1538.8" y="210.6" font-size="15.5" fill="#fff" stroke="#fff" stroke-width="0.2" font-weight="normal" text-anchor="start" textLength="54.4" lengthAdjust="spacingAndGlyphs">1.35495</text>
<rect x="1527" y="227.8" width="74.6" height="22.6" rx="2" fill="#000"/>
<text x="1538.8" y="244.05" font-size="15.5" fill="#fff" stroke="#fff" stroke-width="0.2" font-weight="normal" text-anchor="start" textLength="54.4" lengthAdjust="spacingAndGlyphs">1.34794</text>
<rect x="1527" y="250.1" width="74.6" height="22.6" rx="2" fill="#2196F3"/>
<text x="1538.8" y="266.4" font-size="15.5" fill="#fff" stroke="#fff" stroke-width="0.2" font-weight="normal" text-anchor="start" textLength="54.4" lengthAdjust="spacingAndGlyphs">1.34638</text>
<rect x="1527" y="272.4" width="74.6" height="22.6" rx="2" fill="#26C6DA"/>
<text x="1538.8" y="288.75" font-size="15.5" fill="#131722" stroke="#131722" stroke-width="0.2" font-weight="normal" text-anchor="start" textLength="54.4" lengthAdjust="spacingAndGlyphs">1.34149</text>
<rect x="1527" y="294.8" width="74.6" height="22.6" rx="2" fill="#FF6D00"/>
<text x="1538.8" y="311.1" font-size="15.5" fill="#fff" stroke="#fff" stroke-width="0.2" font-weight="normal" text-anchor="start" textLength="54.4" lengthAdjust="spacingAndGlyphs">1.34095</text>
<rect x="1527" y="317.1" width="74.6" height="22.6" rx="2" fill="#000"/>
<text x="1538.8" y="333.45" font-size="15.5" fill="#fff" stroke="#fff" stroke-width="0.2" font-weight="normal" text-anchor="start" textLength="54.4" lengthAdjust="spacingAndGlyphs">1.33532</text>
<rect x="1527" y="354.4" width="74.6" height="22.6" rx="2" fill="#000"/>
<text x="1538.8" y="370.7" font-size="15.5" fill="#fff" stroke="#fff" stroke-width="0.2" font-weight="normal" text-anchor="start" textLength="54.4" lengthAdjust="spacingAndGlyphs">1.32159</text>
<rect x="1527" y="390.1" width="74.6" height="22.6" rx="2" fill="#000"/>
<text x="1538.8" y="406.4" font-size="15.5" fill="#fff" stroke="#fff" stroke-width="0.2" font-weight="normal" text-anchor="start" textLength="54.4" lengthAdjust="spacingAndGlyphs">1.31415</text>
<rect x="1527" y="453.1" width="74.6" height="22.6" rx="2" fill="#000"/>
<text x="1538.8" y="469.4" font-size="15.5" fill="#fff" stroke="#fff" stroke-width="0.2" font-weight="normal" text-anchor="start" textLength="54.4" lengthAdjust="spacingAndGlyphs">1.30103</text>
<rect x="1527" y="549.3" width="64.6" height="22.6" rx="2" fill="#000"/>
<text x="1538.8" y="565.6" font-size="15.5" fill="#fff" stroke="#fff" stroke-width="0.2" font-weight="normal" text-anchor="start" textLength="46.5" lengthAdjust="spacingAndGlyphs">129.62</text>
<rect x="1527" y="586.0" width="64.6" height="22.6" rx="2" fill="#9E9E9E"/>
<text x="1538.8" y="602.3" font-size="15.5" fill="#131722" stroke="#131722" stroke-width="0.2" font-weight="normal" text-anchor="start" textLength="46.5" lengthAdjust="spacingAndGlyphs">100.00</text>
<text x="75.5" y="634.6" font-size="14" fill="#131722" stroke="#131722" stroke-width="0.1" font-weight="normal" text-anchor="start" textLength="26.7" lengthAdjust="spacingAndGlyphs">Nov</text>
<text x="187.3" y="634.6" font-size="14" fill="#131722" stroke="#131722" stroke-width="0.1" font-weight="normal" text-anchor="start" textLength="16.0" lengthAdjust="spacingAndGlyphs">17</text>
<text x="287.8" y="634.6" font-size="14" fill="#131722" stroke="#131722" stroke-width="0.1" font-weight="normal" text-anchor="start" textLength="26.2" lengthAdjust="spacingAndGlyphs">Dec</text>
<text x="399.5" y="634.6" font-size="14" fill="#131722" stroke="#131722" stroke-width="0.1" font-weight="normal" text-anchor="start" textLength="15.7" lengthAdjust="spacingAndGlyphs">15</text>
<text x="527.5" y="634.6" font-size="14" fill="#131722" stroke="#131722" stroke-width="0.1" font-weight="bold" text-anchor="start" textLength="35.7" lengthAdjust="spacingAndGlyphs">2026</text>
<text x="644.5" y="634.6" font-size="14" fill="#131722" stroke="#131722" stroke-width="0.1" font-weight="normal" text-anchor="start" textLength="15.7" lengthAdjust="spacingAndGlyphs">15</text>
<text x="766.3" y="634.6" font-size="14" fill="#131722" stroke="#131722" stroke-width="0.1" font-weight="normal" text-anchor="start" textLength="25.2" lengthAdjust="spacingAndGlyphs">Feb</text>
<text x="877.4" y="634.6" font-size="14" fill="#131722" stroke="#131722" stroke-width="0.1" font-weight="normal" text-anchor="start" textLength="15.9" lengthAdjust="spacingAndGlyphs">16</text>
<text x="977.5" y="634.6" font-size="14" fill="#131722" stroke="#131722" stroke-width="0.1" font-weight="normal" text-anchor="start" textLength="26.7" lengthAdjust="spacingAndGlyphs">Mar</text>
<text x="1089.4" y="634.6" font-size="14" fill="#131722" stroke="#131722" stroke-width="0.1" font-weight="normal" text-anchor="start" textLength="15.9" lengthAdjust="spacingAndGlyphs">16</text>
<text x="1212.1" y="634.6" font-size="14" fill="#131722" stroke="#131722" stroke-width="0.1" font-weight="normal" text-anchor="start" textLength="25.5" lengthAdjust="spacingAndGlyphs">Apr</text>
<text x="1323.5" y="634.6" font-size="14" fill="#131722" stroke="#131722" stroke-width="0.1" font-weight="normal" text-anchor="start" textLength="15.7" lengthAdjust="spacingAndGlyphs">15</text>
<text x="1443.7" y="634.6" font-size="14" fill="#131722" stroke="#131722" stroke-width="0.1" font-weight="normal" text-anchor="start" textLength="28.4" lengthAdjust="spacingAndGlyphs">May</text>
<text x="11.6" y="26" font-size="15" fill="#131722" stroke="#131722" stroke-width="0.1" font-weight="normal" text-anchor="start" textLength="92.5" lengthAdjust="spacingAndGlyphs">GBP/USD, 1D</text>
<text x="114.3" y="26" font-size="15" fill="#131722" stroke="#131722" stroke-width="0.1" font-weight="normal" text-anchor="start" textLength="9.2" lengthAdjust="spacingAndGlyphs">O</text>
<text x="125.2" y="26" font-size="15" fill="#089981" stroke="#089981" stroke-width="0.1" font-weight="normal" text-anchor="start" textLength="54.7" lengthAdjust="spacingAndGlyphs">1.35094</text>
<text x="190.2" y="26" font-size="15" fill="#131722" stroke="#131722" stroke-width="0.1" font-weight="normal" text-anchor="start" textLength="8.3" lengthAdjust="spacingAndGlyphs">H</text>
<text x="200" y="26" font-size="15" fill="#089981" stroke="#089981" stroke-width="0.1" font-weight="normal" text-anchor="start" textLength="54.2" lengthAdjust="spacingAndGlyphs">1.35762</text>
<text x="265.6" y="26" font-size="15" fill="#131722" stroke="#131722" stroke-width="0.1" font-weight="normal" text-anchor="start" textLength="5.9" lengthAdjust="spacingAndGlyphs">L</text>
<text x="272.9" y="26" font-size="15" fill="#089981" stroke="#089981" stroke-width="0.1" font-weight="normal" text-anchor="start" textLength="54.3" lengthAdjust="spacingAndGlyphs">1.35060</text>
<text x="337.7" y="26" font-size="15" fill="#131722" stroke="#131722" stroke-width="0.1" font-weight="normal" text-anchor="start" textLength="8.6" lengthAdjust="spacingAndGlyphs">C</text>
<text x="347.5" y="26" font-size="15" fill="#089981" stroke="#089981" stroke-width="0.1" font-weight="normal" text-anchor="start" textLength="54.4" lengthAdjust="spacingAndGlyphs">1.35495</text>
<text x="412.1" y="26" font-size="15" fill="#089981" stroke="#089981" stroke-width="0.1" font-weight="normal" text-anchor="start" textLength="54.2" lengthAdjust="spacingAndGlyphs">0.00165</text>
<text x="472.8" y="26" font-size="15" fill="#089981" stroke="#089981" stroke-width="0.1" font-weight="normal" text-anchor="start" textLength="58.3" lengthAdjust="spacingAndGlyphs">(+0.12%)</text>
<text x="11.5" y="49" font-size="15" fill="#131722" stroke="#131722" stroke-width="0.1" font-weight="normal" text-anchor="start" textLength="315.7" lengthAdjust="spacingAndGlyphs">Moving Average Triple (50, 100, 200, Simple)</text>
<text x="335.9" y="49" font-size="15" fill="#FF6D00" stroke="#FF6D00" stroke-width="0.1" font-weight="normal" text-anchor="start" textLength="55.4" lengthAdjust="spacingAndGlyphs">1.34095</text>
<text x="400.8" y="49" font-size="15" fill="#2196F3" stroke="#2196F3" stroke-width="0.1" font-weight="normal" text-anchor="start" textLength="55.4" lengthAdjust="spacingAndGlyphs">1.34638</text>
<text x="465.8" y="49" font-size="15" fill="#26C6DA" stroke="#26C6DA" stroke-width="0.1" font-weight="normal" text-anchor="start" textLength="55.4" lengthAdjust="spacingAndGlyphs">1.34149</text>
<text x="11.5" y="72" font-size="15" fill="#131722" stroke="#131722" stroke-width="0.1" font-weight="normal" text-anchor="start" textLength="196.3" lengthAdjust="spacingAndGlyphs">Pivots (Traditional, Daily, 1)</text>
<text x="12.5" y="532" font-size="15" fill="#131722" stroke="#131722" stroke-width="0.1" font-weight="normal" text-anchor="start" textLength="225.9" lengthAdjust="spacingAndGlyphs">FXS Fed Sentiment Index (close)</text>
<text x="249.8" y="532" font-size="15" fill="#000" stroke="#000" stroke-width="0.1" font-weight="normal" text-anchor="start" textLength="44.8" lengthAdjust="spacingAndGlyphs">129.62</text>
<text x="305.9" y="532" font-size="15" fill="#A6A6A6" stroke="#A6A6A6" stroke-width="0.1" font-weight="normal" text-anchor="start" textLength="45.8" lengthAdjust="spacingAndGlyphs">100.00</text>
</svg></body></html>
